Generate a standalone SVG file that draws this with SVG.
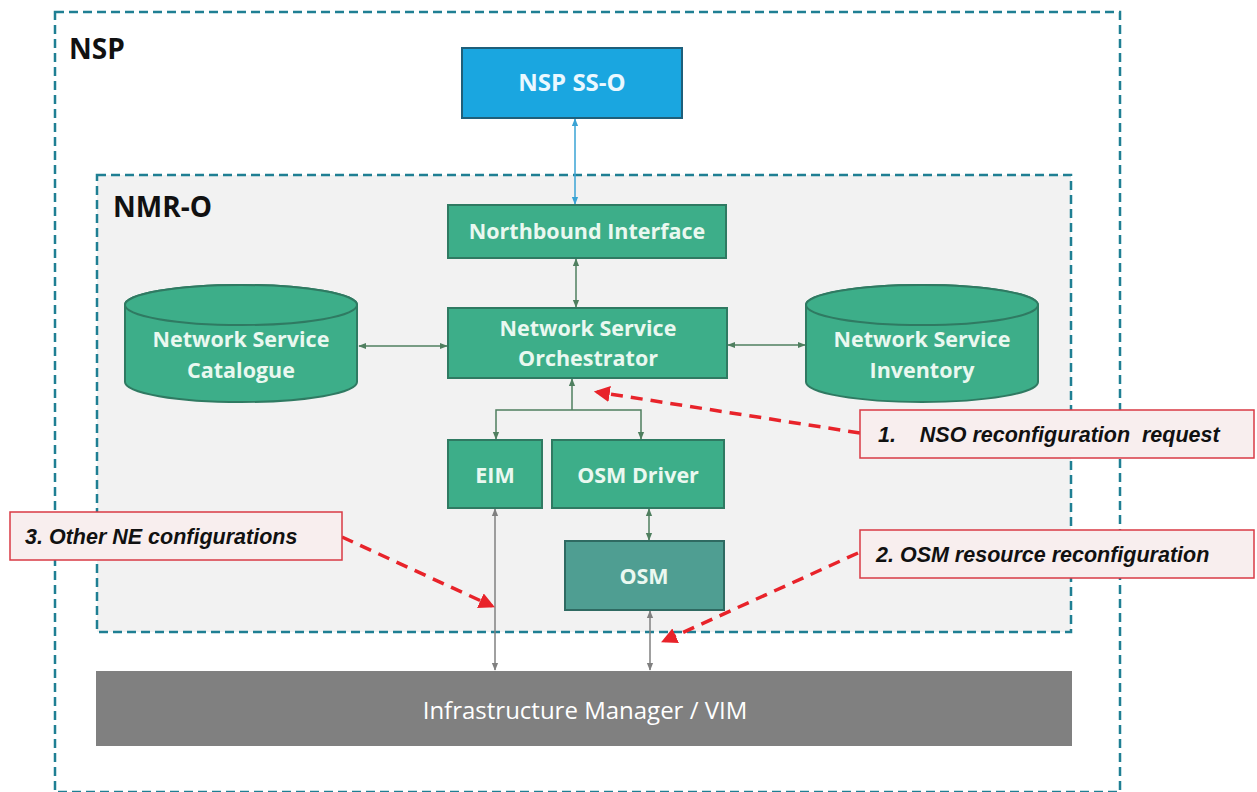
<svg xmlns="http://www.w3.org/2000/svg" width="1257" height="792" viewBox="0 0 1257 792">
<defs>
<style>
.node{fill:#3dae89;stroke:#2f7a62;stroke-width:2}
.nt{font-family:"Open Sans","Liberation Sans",sans-serif;font-weight:bold;fill:#eaf8f0;font-size:21.5px;text-anchor:middle}
.title{font-family:"Open Sans","Liberation Sans",sans-serif;font-weight:bold;fill:#111;font-size:28px}
.call{fill:#f8eeee;stroke:#d93a44;stroke-width:1.5}
.ct{font-family:"Liberation Sans",sans-serif;font-style:italic;font-weight:bold;fill:#111;font-size:21.5px}
.g{stroke:#4f7f5f;stroke-width:1.5;fill:none}
.b{stroke:#3aa3d4;stroke-width:1.5;fill:none}
.gr{stroke:#808080;stroke-width:1.5;fill:none}
.red{stroke:#e8232a;stroke-width:3.5;stroke-dasharray:12 8;fill:none}
</style>
<marker id="ag" viewBox="0 0 10 10" refX="9" refY="5" markerWidth="8" markerHeight="8" orient="auto-start-reverse" markerUnits="userSpaceOnUse"><path d="M0,1 L10,5 L0,9 z" fill="#4f7f5f"/></marker>
<marker id="ab" viewBox="0 0 10 10" refX="9" refY="5" markerWidth="8" markerHeight="8" orient="auto-start-reverse" markerUnits="userSpaceOnUse"><path d="M0,1 L10,5 L0,9 z" fill="#3aa3d4"/></marker>
<marker id="agr" viewBox="0 0 10 10" refX="9" refY="5" markerWidth="8" markerHeight="8" orient="auto-start-reverse" markerUnits="userSpaceOnUse"><path d="M0,1 L10,5 L0,9 z" fill="#808080"/></marker>
<marker id="ar" viewBox="0 0 10 10" refX="8" refY="5" markerWidth="16" markerHeight="16" orient="auto" markerUnits="userSpaceOnUse"><path d="M0,0 L10,5 L0,10 z" fill="#e8232a"/></marker>
</defs>
<rect width="1257" height="792" fill="#ffffff"/>

<g id="nsp">
<rect x="55" y="12" width="1065" height="780" fill="#ffffff" stroke="#1f7f93" stroke-width="2.5" stroke-dasharray="9 5"/>
<text class="title" x="69" y="59">NSP</text>
</g>
<g id="nmr-o">
<rect x="97" y="175" width="974" height="457" fill="#f2f2f2" stroke="#1f7f93" stroke-width="2.5" stroke-dasharray="9 5"/>
<text class="title" x="113" y="217">NMR-O</text>
</g>

<g id="connectors">
<line class="b" x1="575" y1="119" x2="575" y2="204" marker-start="url(#ab)" marker-end="url(#ab)"/>
<line class="g" x1="576" y1="259" x2="576" y2="307" marker-start="url(#ag)" marker-end="url(#ag)"/>
<line class="g" x1="359" y1="346" x2="447" y2="346" marker-start="url(#ag)" marker-end="url(#ag)"/>
<line class="g" x1="728" y1="345" x2="805" y2="345" marker-start="url(#ag)" marker-end="url(#ag)"/>
<line class="g" x1="572" y1="410" x2="572" y2="379" marker-end="url(#ag)"/>
<polyline class="g" points="496,439 496,410 641,410 641,439" marker-start="url(#ag)" marker-end="url(#ag)"/>
<line class="g" x1="649" y1="509" x2="649" y2="540" marker-start="url(#ag)" marker-end="url(#ag)"/>
<line class="gr" x1="495" y1="509" x2="495" y2="670" marker-start="url(#agr)" marker-end="url(#agr)"/>
<line class="gr" x1="650" y1="611" x2="650" y2="670" marker-start="url(#agr)" marker-end="url(#agr)"/>
<line class="red" x1="860" y1="433" x2="597" y2="392" marker-end="url(#ar)"/>
<line class="red" x1="342" y1="537" x2="492" y2="606" marker-end="url(#ar)"/>
<line class="red" x1="858" y1="553" x2="664" y2="641" marker-end="url(#ar)"/>
</g>

<g id="nsp-sso">
<rect x="462" y="48" width="220" height="70" fill="#1aa6e0" stroke="#1f5f7a" stroke-width="2"/>
<text class="nt" x="572" y="91" style="font-size:24px;fill:#eaf8ff">NSP SS-O</text>
</g>
<g id="northbound">
<rect class="node" x="448" y="205" width="278" height="53"/>
<text class="nt" x="587" y="239">Northbound Interface</text>
</g>
<g id="nso">
<rect class="node" x="448" y="308" width="279" height="70"/>
<text class="nt" x="588" y="336">Network Service</text>
<text class="nt" x="588" y="366">Orchestrator</text>
</g>
<g id="catalogue">
<path class="node" d="M125,305 A116,20 0 0 1 357,305 L357,382 A116,20 0 0 1 125,382 Z"/>
<ellipse cx="241" cy="305" rx="116" ry="20" fill="#3dae89" stroke="#2f7a62" stroke-width="2"/>
<text class="nt" x="241" y="347">Network Service</text>
<text class="nt" x="241" y="378">Catalogue</text>
</g>
<g id="inventory">
<path class="node" d="M806,305 A116,20 0 0 1 1038,305 L1038,382 A116,20 0 0 1 806,382 Z"/>
<ellipse cx="922" cy="305" rx="116" ry="20" fill="#3dae89" stroke="#2f7a62" stroke-width="2"/>
<text class="nt" x="922" y="347">Network Service</text>
<text class="nt" x="922" y="378">Inventory</text>
</g>
<g id="eim">
<rect class="node" x="448" y="440" width="94" height="68"/>
<text class="nt" x="495" y="483">EIM</text>
</g>
<g id="osm-driver">
<rect class="node" x="552" y="440" width="172" height="68"/>
<text class="nt" x="638" y="483">OSM Driver</text>
</g>
<g id="osm">
<rect x="565" y="541" width="159" height="69" fill="#4f9e92" stroke="#2f6a62" stroke-width="2"/>
<text class="nt" x="644" y="584">OSM</text>
</g>
<g id="vim">
<rect x="96" y="671" width="976" height="75" fill="#808080"/>
<text x="585" y="719" font-family="'Open Sans','Liberation Sans',sans-serif" font-size="24" fill="#ffffff" text-anchor="middle">Infrastructure Manager / VIM</text>
</g>

<g id="callout-1">
<rect class="call" x="860" y="410" width="394" height="48"/>
<text class="ct" x="878" y="442" xml:space="preserve">1.    NSO reconfiguration  request</text>
</g>
<g id="callout-2">
<rect class="call" x="860" y="530" width="394" height="48"/>
<text class="ct" x="876" y="562">2. OSM resource reconfiguration</text>
</g>
<g id="callout-3">
<rect class="call" x="10" y="512" width="332" height="48"/>
<text class="ct" x="25" y="544">3. Other NE configurations</text>
</g>
</svg>
